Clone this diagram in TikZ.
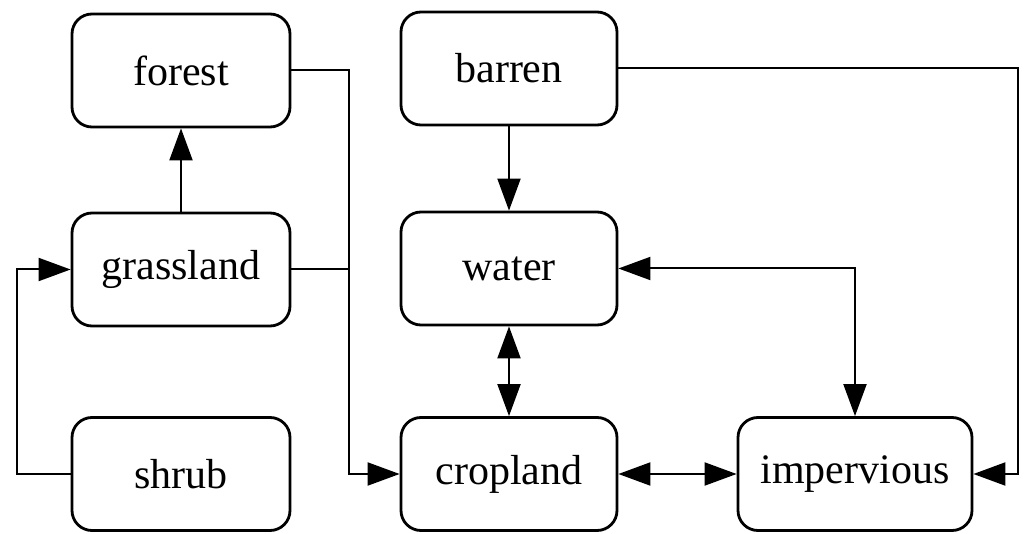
\documentclass[tikz,border=0pt]{standalone}
\usepackage{fontspec}
\setmainfont{Liberation Serif}
\usetikzlibrary{arrows.meta}
\begin{document}
\begin{tikzpicture}[x=1pt,y=-1pt,
  box/.style={draw, line width=2.8pt, rounded corners=20pt, minimum height=113pt, inner sep=0pt,
    font=\fontsize{42}{50}\selectfont},
  conn/.style={line width=2pt},
  arr/.style={conn, -{Triangle[length=32pt,width=23pt]}},
  arrtwo/.style={conn, {Triangle[length=32pt,width=23pt]}-{Triangle[length=32pt,width=23pt]}}]
\useasboundingbox (0,0) rectangle (1026,534);
\node[box, minimum width=218pt] (forest) at (181,70.5) {forest};
\node[box, minimum width=216pt] (barren) at (509,68.5) {barren};
\node[box, minimum width=218pt] (grassland) at (181,269.5) {grassland};
\node[box, minimum width=216pt] (water) at (509,268.5) {water};
\node[box, minimum width=218pt] (shrub) at (181,474) {shrub};
\node[box, minimum width=216pt] (cropland) at (509,474) {cropland};
\node[box, minimum width=234pt] (impervious) at (855,474) {impervious};
\coordinate (fj) at (349,70.5);
\coordinate (sl) at (17,474);
\coordinate (br) at (1018,68.5);
\draw[arr] (grassland) -- (forest);
\draw[arr] (forest.east) -- (fj) |- (cropland.west);
\draw[conn] (grassland.east) -- (grassland.east -| fj);
\draw[arr] (shrub.west) -- (sl) |- (grassland.west);
\draw[arr] (barren) -- (water);
\draw[arr] (barren.east) -- (br) |- (impervious.east);
\draw[arrtwo] (water.east) -| (impervious.north);
\draw[arrtwo] (water) -- (cropland);
\draw[arrtwo] (cropland) -- (impervious);
\end{tikzpicture}
\end{document}
